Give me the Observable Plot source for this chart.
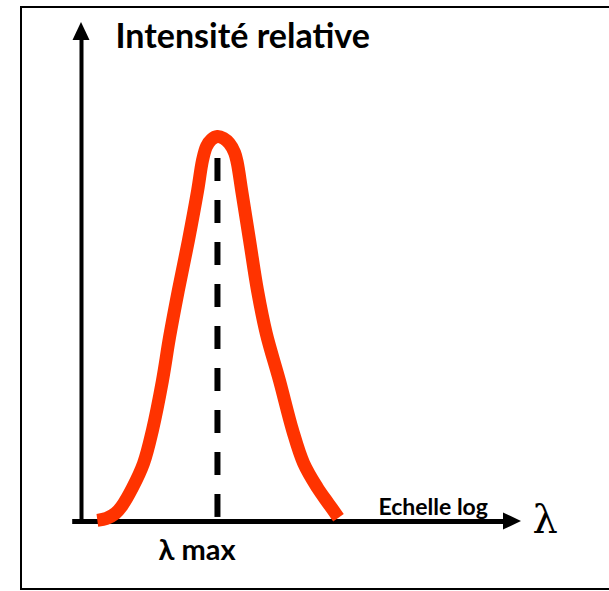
<!DOCTYPE html>
<html><head><meta charset="utf-8">
<script src="https://cdn.jsdelivr.net/npm/d3@7"></script>
<script src="https://cdn.jsdelivr.net/npm/@observablehq/plot@0.6"></script>
<style>
body{margin:0;background:#fff;}
#wrap{position:relative;width:609px;height:591px;overflow:hidden;background:#fff;}
#border{position:absolute;left:20px;top:6px;width:600px;height:580px;border:2px solid #000;pointer-events:none;}
#chart{position:absolute;left:0;top:0;}
</style></head><body>
<div id="wrap"><div id="chart"></div><div id="border"></div></div>
<script>
// Spectre d'émission : longueur d'onde (échelle log, unités arbitraires) et intensité relative
const lambda    = [0.36, 0.57, 0.77, 0.91, 1.16, 1.41, 1.61, 1.84, 2.00, 2.20, 2.43, 2.64, 2.75, 2.84, 2.95, 3.09, 3.23, 3.36, 3.48, 3.54, 3.64, 3.82, 4.00, 4.20, 4.50, 4.80, 5.05, 5.36, 5.61, 5.84];
const intensite = [0.003, 0.008, 0.021, 0.039, 0.088, 0.151, 0.236, 0.366, 0.478, 0.600, 0.730, 0.860, 0.938, 0.974, 0.992, 1.000, 0.995, 0.982, 0.958, 0.932, 0.860, 0.730, 0.600, 0.488, 0.366, 0.236, 0.151, 0.088, 0.047, 0.010];
const lambdaMax = 3.09;
const dashTop = 0.943;
// Axes
const xAxisStart = -0.2, xAxisEnd = 10;
const yAxisStart = 0, yAxisEnd = 1.296;
// Textes
const labelTexts = ["Intensité relative", "Echelle log", "λ max", "λ"];
const labelX     = [0.773, 6.75, 1.75, 10.25];
const labelY     = [1.229, 0.016, -0.101, -0.031];

const curve = lambda.map((l, i) => ({l, v: intensite[i]}));
const lab = labelTexts.map((t, i) => ({t, x: labelX[i], y: labelY[i]}));

const arrowHead = (len, half) => (index, scales) => {
  const x = scales.x, y = scales.y;
  const g = d3.create("svg:g");
  const tx = x(0), ty = y(yAxisEnd);
  g.append("path").attr("fill", "#000")
    .attr("d", `M${tx},${ty}L${tx - half},${ty + len}L${tx + half},${ty + len}Z`);
  const ux = x(xAxisEnd), uy = y(0);
  g.append("path").attr("fill", "#000")
    .attr("d", `M${ux},${uy}L${ux - len},${uy - half}L${ux - len},${uy + half}Z`);
  return g.node();
};

const chart = Plot.plot({
  width: 609, height: 591, margin: 0,
  style: {background: "none", overflow: "visible"},
  x: {domain: [0, 10], range: [81, 521], axis: null},
  y: {domain: [0, 1], range: [521, 136], axis: null},
  marks: [
    Plot.ruleX([0], {y1: yAxisStart - 0.003, y2: yAxisEnd - 0.04, stroke: "#000", strokeWidth: 4}),
    Plot.ruleY([0], {x1: xAxisStart, x2: xAxisEnd - 0.35, stroke: "#000", strokeWidth: 5}),
    arrowHead(18, 8.5),
    Plot.ruleX([lambdaMax], {y1: dashTop, y2: 0, stroke: "#000", strokeWidth: 6, strokeDasharray: "23,19"}),
    Plot.line(curve, {x: "l", y: "v", stroke: "#ff3300", strokeWidth: 13, curve: "catmull-rom", strokeLinecap: "butt", strokeLinejoin: "round"}),
    Plot.text(lab.slice(0, 1), {x: "x", y: "y", text: "t", textAnchor: "start", lineAnchor: "bottom", fontFamily: "Lato", fontWeight: "bold", fontSize: 34, fill: "#000"}),
    Plot.text(lab.slice(1, 2), {x: "x", y: "y", text: "t", textAnchor: "start", lineAnchor: "bottom", fontFamily: "Lato", fontWeight: "bold", fontSize: 23, fill: "#000"}),
    Plot.text(lab.slice(2, 3), {x: "x", y: "y", text: "t", textAnchor: "start", lineAnchor: "bottom", fontFamily: "Lato", fontWeight: "bold", fontSize: 29, fill: "#000"}),
    Plot.text(lab.slice(3, 4), {x: "x", y: "y", text: "t", textAnchor: "start", lineAnchor: "bottom", fontFamily: "DejaVu Serif", fontSize: 40, fill: "#000"})
  ]
});
document.getElementById("chart").append(chart);
</script>
</body></html>
